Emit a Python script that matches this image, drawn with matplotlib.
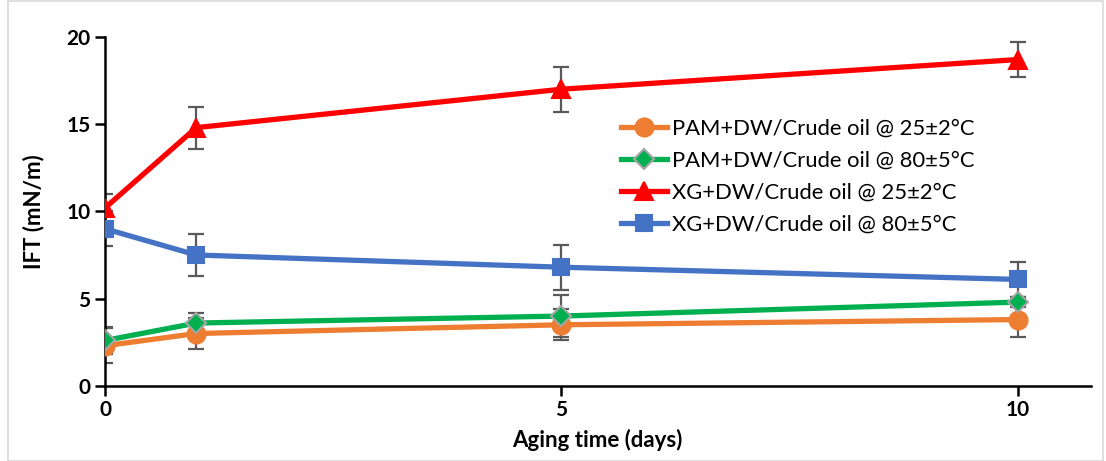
import numpy as np
import matplotlib
matplotlib.use("Agg")
import matplotlib.pyplot as plt
from matplotlib.patches import Rectangle

plt.rcParams["font.family"] = ["Lato", "DejaVu Sans"]

days = [0, 1, 5, 10]
labels = ["PAM+DW/Crude oil @ 25±2°C", "PAM+DW/Crude oil @ 80±5°C",
          "XG+DW/Crude oil @ 25±2°C", "XG+DW/Crude oil @ 80±5°C"]
pam25 = [2.3, 3.0, 3.5, 3.8]
pam80 = [2.6, 3.6, 4.0, 4.8]
xg25 = [10.2, 14.8, 17.0, 18.7]
xg80 = [9.0, 7.5, 6.8, 6.1]
pam25_err = [1.0, 0.9, 0.9, 1.0]
pam80_err = [0.8, 0.6, 1.2, 0.3]
xg25_err = [0.8, 1.2, 1.3, 1.0]
xg80_err = [1.0, 1.2, 1.3, 1.0]

series = [
    (pam25, pam25_err, "#ED7D31", "o", "none", 13),
    (pam80, pam80_err, "#00B050", "D", "#A5A5A5", 10),
    (xg25, xg25_err, "#FF0000", "^", "none", 13),
    (xg80, xg80_err, "#4472C4", "s", "none", 12),
]

fig = plt.figure(figsize=(11.06, 4.61), dpi=100)
ax = fig.add_axes([0.095, 0.163, 0.891, 0.757])

for (y, e, c, m, ec, ms), lab in zip(series, labels):
    ax.errorbar(days, y, yerr=e, fmt="none", ecolor="#595959", elinewidth=1.6,
                capsize=6, capthick=1.6, zorder=2)
    ax.plot(days, y, color=c, lw=3.8, marker=m, ms=ms, markerfacecolor=c,
            markeredgecolor=c if ec == "none" else ec, markeredgewidth=1.5,
            label=lab, zorder=3)

ax.set_xlim(0, 10.8)
ax.set_ylim(0, 20)
ax.set_xticks([0, 5, 10])
ax.set_yticks([0, 5, 10, 15, 20])
for s in ["top", "right"]:
    ax.spines[s].set_visible(False)
for s in ["left", "bottom"]:
    ax.spines[s].set_linewidth(1.8)
    ax.spines[s].set_color("black")
ax.tick_params(axis="both", direction="out", length=7, width=1.8, labelsize=15)
for t in ax.get_xticklabels() + ax.get_yticklabels():
    t.set_fontweight("bold")
ax.set_xlabel("Aging time (days)", fontsize=16, fontweight="bold", labelpad=6)
ax.set_ylabel("IFT (mN/m)", fontsize=16, fontweight="bold", labelpad=16)

leg = ax.legend(loc="upper left", bbox_to_anchor=(0.515, 0.79), frameon=False,
                fontsize=15.8, handlelength=2.1, handletextpad=0.2,
                labelspacing=0.55, borderaxespad=0)

fig.patches.append(Rectangle((0.007, 0.0), 0.99, 0.998, transform=fig.transFigure,
                             fill=False, edgecolor="#D9D9D9", lw=1.2))

fig.savefig("out.png", dpi=100)
